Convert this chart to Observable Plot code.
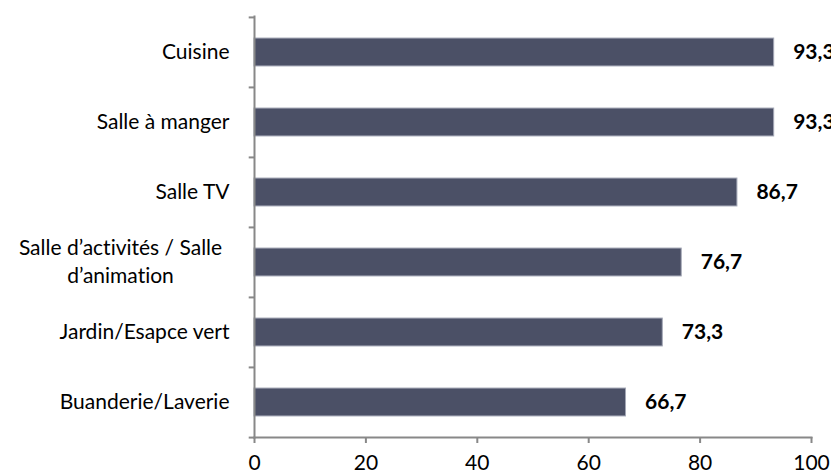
<!DOCTYPE html>
<html>
<head>
<meta charset="utf-8">
<script src="https://cdn.jsdelivr.net/npm/d3@7"></script>
<script src="https://cdn.jsdelivr.net/npm/@observablehq/plot@0.6"></script>
<style>
  html, body { margin: 0; padding: 0; background: #fff; }
  svg { overflow: visible; }
  svg text { font-variant-ligatures: none; font-feature-settings: "liga" 0, "clig" 0; }
</style>
</head>
<body>
<div id="chart"></div>
<script>
const categories = [
  "Cuisine",
  "Salle à manger",
  "Salle TV",
  "Salle d’activités / Salle d’animation",
  "Jardin/Esapce vert",
  "Buanderie/Laverie"
];
const categoryLabels = [
  "Cuisine",
  "Salle à manger",
  "Salle TV",
  "Salle d’activités / Salle\nd’animation",
  "Jardin/Esapce vert",
  "Buanderie/Laverie"
];
const values = [93.3, 93.3, 86.7, 76.7, 73.3, 66.7];
const valueLabels = ["93,3", "93,3", "86,7", "76,7", "73,3", "66,7"];
const xTicks = [0, 20, 40, 60, 80, 100];

const data = categories.map((c, i) => ({
  category: c, label: categoryLabels[i], value: values[i], valueLabel: valueLabels[i]
}));

const W = 831, H = 475;
const mt = 16, mb = 38, ml = 254, mr = 20;
const bw = (H - mt - mb) / categories.length;
const axisColor = "#888888";

const single = data.filter(d => !d.label.includes("\n"));
const multi = data.filter(d => d.label.includes("\n"));

const chart = Plot.plot({
  width: W, height: H,
  marginTop: mt, marginBottom: mb, marginLeft: ml, marginRight: mr,
  style: { fontFamily: "Lato, 'Open Sans', sans-serif", fontSize: "21px", color: "#000", overflow: "visible", background: "#fff" },
  x: { domain: [0, 100] },
  y: { domain: categories, padding: 0 },
  marks: [
    Plot.barX(data, {
      y: "category", x: "value",
      fill: "#4b5066", stroke: "#a3a7b5", strokeWidth: 1,
      insetTop: bw * 0.3, insetBottom: bw * 0.3
    }),
    // y-axis boundary ticks (between categories)
    Plot.ruleY(data, { y: "category", x1: -0.95, x2: 0, dy: -bw / 2, stroke: axisColor, strokeWidth: 2 }),
    Plot.ruleY(data.slice(-1), { y: "category", x1: -0.95, x2: 0, dy: bw / 2, stroke: axisColor, strokeWidth: 2 }),
    Plot.frame({ anchor: "bottom", stroke: axisColor, strokeWidth: 2 }),
    Plot.frame({ anchor: "left", stroke: axisColor, strokeWidth: 2 }),
    Plot.axisX({ ticks: xTicks, tickSize: 6, tickPadding: 12, stroke: axisColor, strokeWidth: 2, label: null, fill: "#000" }),
    Plot.axisY({
      ticks: single.map(d => d.category),
      tickFormat: c => categoryLabels[categories.indexOf(c)],
      tickSize: 0, tickPadding: 25, label: null, fill: "#000"
    }),
    Plot.text(multi, {
      y: "category", text: "label", frameAnchor: "left",
      textAnchor: "middle", dx: -134, dy: -2, lineHeight: 1.33, fill: "#000"
    }),
    Plot.text(data, {
      y: "category", x: "value", text: "valueLabel",
      dx: 19, textAnchor: "start", fontWeight: "bold", fill: "#000"
    })
  ]
});
document.getElementById("chart").appendChild(chart);
</script>
</body>
</html>
